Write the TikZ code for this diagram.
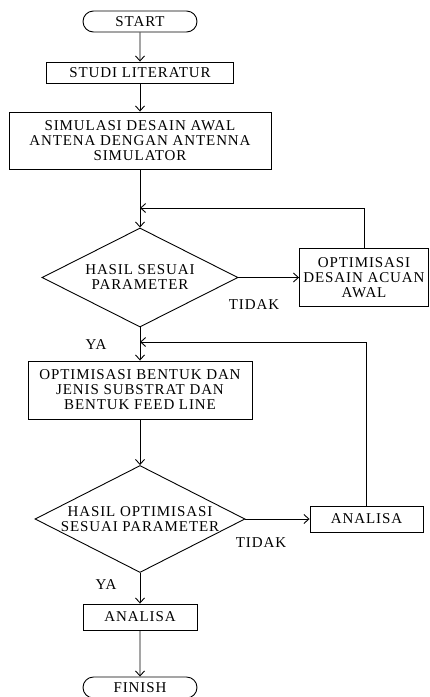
\documentclass[tikz,border=0pt]{standalone}
\usepackage{fontspec}
\setmainfont{Liberation Serif}[LetterSpace=6]
\usetikzlibrary{shapes.geometric,shapes.misc,arrows.meta}

\begin{document}
\begin{tikzpicture}[x=1pt,y=-1pt,line width=0.9pt,
    font=\fontsize{15}{15}\selectfont,
    arr/.style={-{Straight Barb[length=5pt,width=9pt]}},
    terminal/.style={draw, rounded rectangle, minimum width=114pt, minimum height=21pt, inner sep=0pt},
    proses/.style={draw, align=center, inner sep=0pt},
    keputusan/.style={draw, diamond, shape aspect=2, align=center, inner sep=0pt}]
    \useasboundingbox (0,0) rectangle (430,697);

    \node [terminal] (start) at (140,21.5) {START};
    \node [proses, minimum width=187pt, minimum height=21pt] (studi) at (140,72.5) {STUDI LITERATUR};
    \node [proses, minimum width=262pt, minimum height=57pt] (simulasi) at (140,140.5) {SIMULASI DESAIN AWAL\\ANTENA DENGAN ANTENNA\\SIMULATOR};
    \coordinate (j1) at (140,208);
    \node [keputusan, minimum width=196pt, minimum height=99pt] (hasil1) at (140,277.5) {HASIL SESUAI\\PARAMETER};
    \node [proses, minimum width=129pt, minimum height=58pt] (optawal) at (364,277.5) {OPTIMISASI\\DESAIN ACUAN\\AWAL};
    \node (tidak1) at (254,305) {TIDAK};
    \node (ya1) at (96,345) {YA};
    \coordinate (j2) at (140,342);
    \node [proses, minimum width=224pt, minimum height=58pt] (bentuk) at (140,390) {OPTIMISASI BENTUK DAN\\JENIS SUBSTRAT DAN\\BENTUK FEED LINE};
    \node [keputusan, minimum width=210pt, minimum height=107pt, inner sep=-6pt] (hasil2) at (140,519) {HASIL OPTIMISASI\\SESUAI PARAMETER};
    \node [proses, minimum width=113pt, minimum height=26pt] (analisa1) at (366.5,519) {ANALISA};
    \node (tidak2) at (261,543) {TIDAK};
    \node (ya2) at (106,585) {YA};
    \node [proses, minimum width=114pt, minimum height=26pt] (analisa2) at (140,617) {ANALISA};
    \node [terminal] (finish) at (140,687.5) {FINISH};

    % alur utama
    \draw [arr] (start) -- (studi);
    \draw [arr] (studi) -- (simulasi);
    \draw [arr] (simulasi) -- (hasil1);
    \draw [arr] (hasil1) -- (optawal);
    \draw [arr] (optawal.north) |- (j1);
    \draw [arr] (hasil1) -- (bentuk);
    \draw [arr] (bentuk) -- (hasil2);
    \draw [arr] (hasil2) -- (analisa1);
    \draw [arr] (analisa1.north) |- (j2);
    \draw [arr] (hasil2) -- (analisa2);
    \draw [arr] (analisa2) -- (finish);
\end{tikzpicture}
\end{document}
